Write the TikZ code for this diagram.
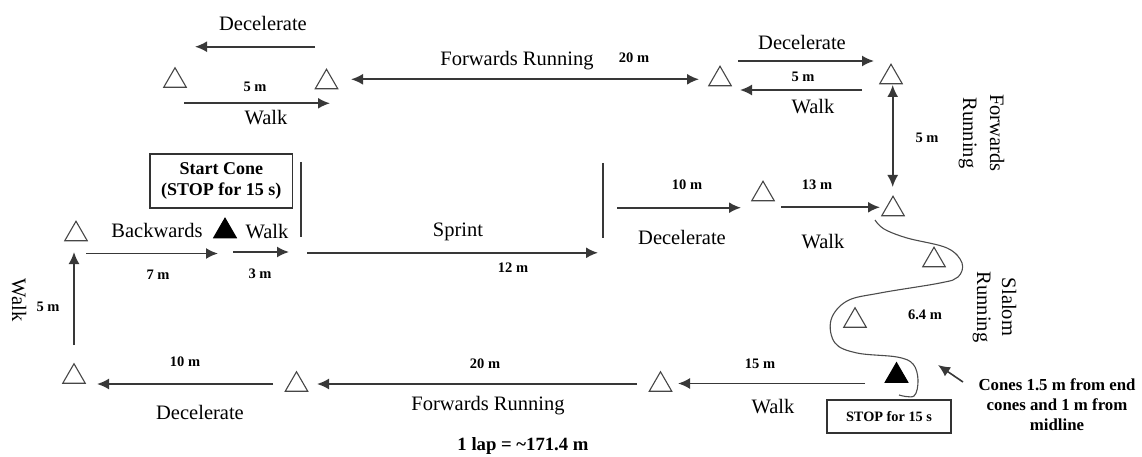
\documentclass[tikz,border=0pt]{standalone}
\usepackage{fontspec}
\setmainfont{Liberation Serif}
\usetikzlibrary{shapes.geometric,arrows.meta}
\begin{document}
\begin{tikzpicture}[x=1pt,y=-1pt,
 cone/.style={regular polygon, regular polygon sides=3, minimum size=26pt, inner sep=0pt, draw=gray!55!black, line width=1.1pt},
 fcone/.style={cone, fill=black, draw=black},
 arr/.style={draw=black!78, line width=1.8pt, -{Latex[length=12pt,width=11pt]}},
 darr/.style={draw=black!78, line width=1.8pt, {Latex[length=12pt,width=11pt]}-{Latex[length=12pt,width=11pt]}},
 bar/.style={draw=black!78, line width=1.6pt},
 lbl/.style={font=\fontsize{20.5}{24}\selectfont, inner sep=0pt},
 dist/.style={font=\fontsize{14.5}{17}\selectfont\bfseries, inner sep=0pt},
 infobox/.style={draw=black!80, line width=1.2pt, align=center, inner sep=0pt}
]
\useasboundingbox (0,0) rectangle (1142,457);

% cones (node centre = circumcentre, 3.25 below visual centre)
\node[cone] (c1) at (175,80.75) {};
\node[cone] (c2) at (326.5,82.25) {};
\node[cone] (c3) at (720,79.25) {};
\node[cone] (c4) at (891,77.25) {};
\node[cone] (c5) at (763,194.25) {};
\node[cone] (c6) at (893,209.25) {};
\node[cone] (c7) at (76,234.25) {};
\node[fcone] (start) at (225,231.25) {};
\node[cone] (c8) at (74,376.75) {};
\node[cone] (c9) at (296.5,384.75) {};
\node[cone] (c10) at (660.5,384.75) {};
\node[fcone] (stop) at (896.5,375.75) {};
\node[cone] (s1) at (934,260.25) {};
\node[cone] (s2) at (855,320.75) {};

% arrow endpoints
\coordinate (a1s) at (315,46.7);  \coordinate (a1e) at (195,46.7);
\coordinate (a2s) at (184,103.3); \coordinate (a2e) at (330,103.3);
\coordinate (a3s) at (351,79.3);  \coordinate (a3e) at (699,79.3);
\coordinate (a4s) at (738,61);    \coordinate (a4e) at (874,61);
\coordinate (a5s) at (862,90);    \coordinate (a5e) at (740,90);
\coordinate (a6s) at (892.7,85);  \coordinate (a6e) at (892.7,187);
\coordinate (a7s) at (617,207.7); \coordinate (a7e) at (741,207.7);
\coordinate (a8s) at (781,207.3); \coordinate (a8e) at (880,207.3);
\coordinate (b1s) at (603,163);   \coordinate (b1e) at (603,238);
\coordinate (b2s) at (301,162);   \coordinate (b2e) at (301,237);
\coordinate (a9s) at (86,253.5);  \coordinate (a9e) at (218,253.5);
\coordinate (a10s) at (233,252);  \coordinate (a10e) at (289,252);
\coordinate (a11s) at (307,252.8); \coordinate (a11e) at (598,252.8);
\coordinate (a12s) at (74,345);   \coordinate (a12e) at (74,252);
\coordinate (a13s) at (273,384);  \coordinate (a13e) at (97,384);
\coordinate (a14s) at (637,384);  \coordinate (a14e) at (317,384);
\coordinate (a15s) at (865,383.5); \coordinate (a15e) at (678,383.5);
\coordinate (a16s) at (963,382);  \coordinate (a16e) at (938,365);

\draw[arr] (a1s) -- (a1e);
\draw[arr] (a2s) -- (a2e);
\draw[darr] (a3s) -- (a3e);
\draw[arr] (a4s) -- (a4e);
\draw[arr] (a5s) -- (a5e);
\draw[darr] (a6s) -- (a6e);
\draw[arr] (a7s) -- (a7e);
\draw[arr] (a8s) -- (a8e);
\draw[bar] (b1s) -- (b1e);
\draw[bar] (b2s) -- (b2e);
\draw[arr] (a9s) -- (a9e);
\draw[arr] (a10s) -- (a10e);
\draw[arr] (a11s) -- (a11e);
\draw[arr] (a12s) -- (a12e);
\draw[arr] (a13s) -- (a13e);
\draw[arr] (a14s) -- (a14e);
\draw[arr] (a15s) -- (a15e);
\draw[arr, line width=1.6pt] (a16s) -- (a16e);

% slalom path
\draw[black!70, line width=1.1pt] plot[smooth, tension=0.6] coordinates {
 (875,220) (884,229) (907,238) (947,248) (962,263) (958,277) (940,283)
 (880,293) (847,301) (831,320) (835,343) (857,353) (897,357) (913,364)
 (918,380) (914,396) (899,395)};

% labels
\node[lbl] (l1) at (263,23) {Decelerate};
\node[dist] (d1) at (255,87) {5 m};
\node[lbl] (l2) at (266,118) {Walk};
\node[lbl] (l3) at (517,61) {Forwards Running};
\node[dist] (d2) at (634,58) {20 m};
\node[lbl] (l4) at (802,42) {Decelerate};
\node[dist] (d3) at (803,77) {5 m};
\node[lbl] (l5) at (813,107) {Walk};
\node[dist] (d4) at (927,138) {5 m};
\node[lbl, rotate=-90, align=center, font=\fontsize{20.5}{27}\selectfont] (l6) at (981.5,133) {Forwards\\Running};
\node[dist] (d5) at (687,185) {10 m};
\node[dist] (d6) at (817,185) {13 m};
\node[lbl] (l7) at (682,237) {Decelerate};
\node[lbl] (l8) at (823,242) {Walk};
\node[infobox, minimum width=142.7pt, minimum height=54pt, font=\fontsize{18}{21}\selectfont\bfseries] (startbox) at (221.3,181) {Start Cone\\(STOP for 15 s)};
\node[lbl] (l9) at (157,230) {Backwards};
\node[lbl] (l10) at (267,232) {Walk};
\node[dist] (d7) at (158,275) {7 m};
\node[dist] (d8) at (260,274) {3 m};
\node[lbl] (l11) at (458,232) {Sprint};
\node[dist] (d9) at (513,268) {12 m};
\node[lbl, rotate=-90] (l12) at (19,300) {Walk};
\node[dist] (d10) at (48,307) {5 m};
\node[dist] (d11) at (185,362) {10 m};
\node[lbl] (l13) at (200,412) {Decelerate};
\node[dist] (d12) at (485,364) {20 m};
\node[lbl] (l14) at (488,406) {Forwards Running};
\node[dist] (d13) at (760,364) {15 m};
\node[lbl] (l15) at (773,407) {Walk};
\node[dist] (d14) at (925,315) {6.4 m};
\node[lbl, rotate=-90, align=center, font=\fontsize{20.5}{25}\selectfont] (l16) at (994.5,307) {Slalom\\Running};
\node[infobox, minimum width=124pt, minimum height=33pt, font=\fontsize{14.3}{17}\selectfont\bfseries] (stopbox) at (889,416.5) {STOP for 15 s};
\node[align=center, inner sep=0pt, font=\fontsize{16.8}{20}\selectfont\bfseries] (note) at (1057,405) {Cones 1.5 m from end\\cones and 1 m from\\midline};
\node[inner sep=0pt, font=\fontsize{18.7}{22}\selectfont\bfseries] (lap) at (523,446) {1 lap = \textasciitilde 171.4 m};
\end{tikzpicture}
\end{document}
